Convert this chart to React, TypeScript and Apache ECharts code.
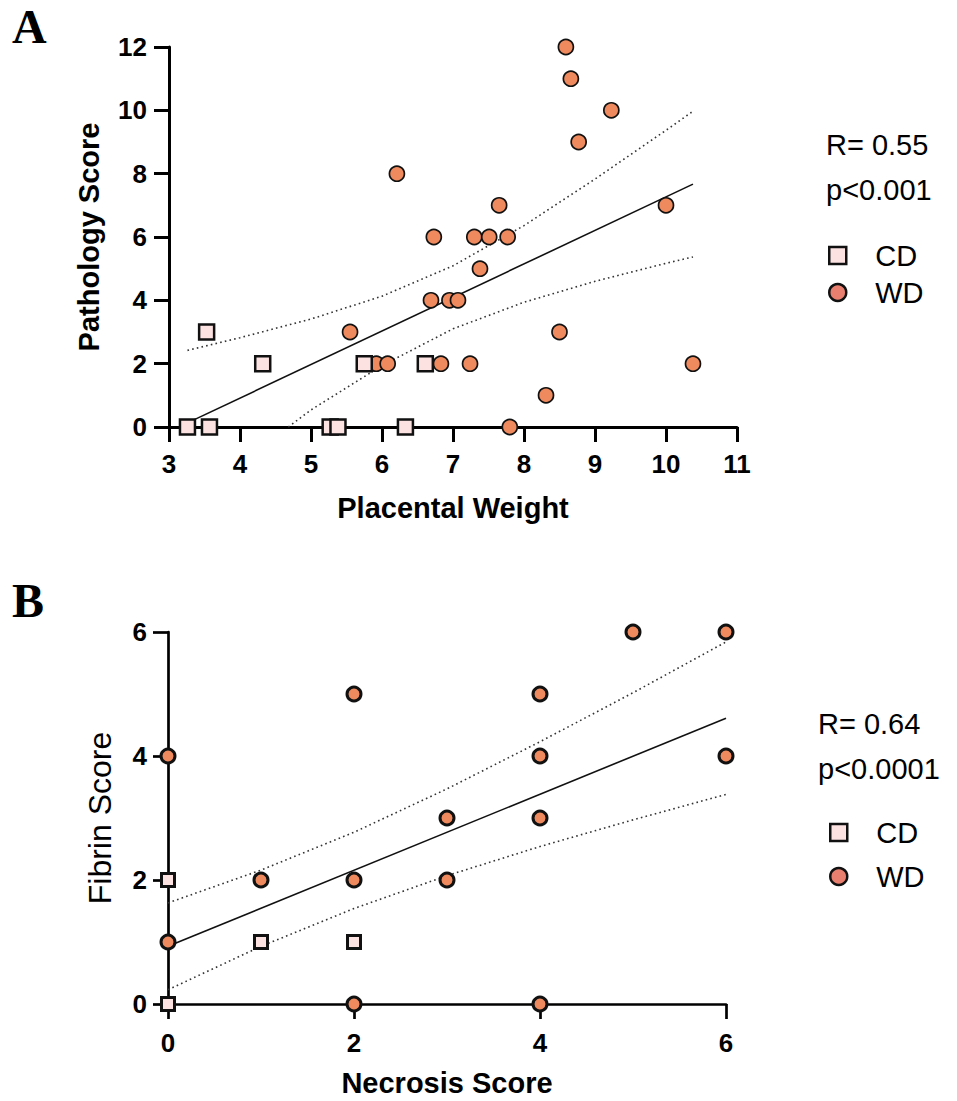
import React, { useEffect, useRef } from "react";
import * as echarts from "echarts";

// ---------- Panel A : Placental Weight vs Pathology Score ----------
const aCDx = [3.26, 3.53, 3.57, 4.32, 5.27, 5.38, 5.75, 6.33, 6.61];
const aCDy = [0, 3, 0, 2, 0, 0, 2, 0, 2];
const aWDx = [5.55, 5.92, 6.08, 6.21, 6.69, 6.73, 6.83, 6.95, 7.07, 7.24, 7.3, 7.38, 7.51, 7.65, 7.77, 7.8, 8.31, 8.5, 8.59, 8.66, 8.77, 9.23, 10.0, 10.38];
const aWDy = [3, 2, 2, 8, 4, 6, 2, 4, 4, 2, 6, 5, 6, 7, 6, 0, 1, 3, 12, 11, 9, 10, 7, 2];
const aFitX = [3.26, 10.38];
const aFitY = [0.13, 7.67];
const aUpX = [3.26, 4, 5, 6, 7, 8, 9, 10, 10.38];
const aUpY = [2.42, 2.82, 3.41, 4.13, 5.09, 6.36, 7.83, 9.37, 9.97];
const aLoX = [4.68, 5, 6, 7, 8, 9, 10, 10.38];
const aLoY = [0, 0.54, 1.94, 3.1, 3.94, 4.6, 5.17, 5.37];
const aXTicks = { min: 3, max: 11, interval: 1 };
const aYTicks = { min: 0, max: 12, interval: 2 };

// ---------- Panel B : Necrosis Score vs Fibrin Score ----------
const bCDx = [0, 0, 1, 2];
const bCDy = [2, 0, 1, 1];
const bWDx = [0, 0, 1, 2, 2, 2, 3, 3, 4, 4, 4, 4, 5, 6, 6];
const bWDy = [4, 1, 2, 5, 2, 0, 3, 2, 5, 4, 3, 0, 6, 6, 4];
const bFitX = [0, 6];
const bFitY = [0.93, 4.61];
const bUpX = [0, 1, 2, 3, 4, 5, 6];
const bUpY = [1.63, 2.16, 2.77, 3.47, 4.23, 5.02, 5.84];
const bLoX = [0, 1, 2, 3, 4, 5, 6];
const bLoY = [0.23, 0.93, 1.54, 2.07, 2.54, 2.97, 3.38];
const bXTicks = { min: 0, max: 6, interval: 2 };
const bYTicks = { min: 0, max: 6, interval: 2 };

const statsA = ["R= 0.55", "p<0.001"];
const statsB = ["R= 0.64", "p<0.0001"];
const groups = ["CD", "WD"];

const zip = (xs: number[], ys: number[]) => xs.map((x, i) => [x, ys[i]]);

const ORANGE = "#EE8A5E";
const PINK = "#FDE2E2";
const LEGEND_RED = "#E9806F";
const SANS = '"Liberation Sans", Arial, sans-serif';
const NARROW = '"Liberation Sans Narrow", "Liberation Sans", Arial, sans-serif';

function axisCommon(lw: number) {
  return {
    type: "value" as const,
    axisLine: { show: true, onZero: false, lineStyle: { color: "#000", width: lw } },
    axisTick: { show: true, inside: false, length: 15, lineStyle: { color: "#000", width: lw } },
    splitLine: { show: false },
    axisLabel: { color: "#000", fontSize: 26, fontWeight: "bold" as const, fontFamily: NARROW },
  };
}

function fitSeries(name: string, idx: number, xs: number[], ys: number[], dotted: boolean) {
  return {
    name,
    type: "line" as const,
    xAxisIndex: idx,
    yAxisIndex: idx,
    data: zip(xs, ys),
    symbol: "none",
    silent: true,
    z: 1,
    lineStyle: dotted
      ? { color: "#333", width: 1.6, type: [1.6, 3.2] }
      : { color: "#111", width: 1.6 },
  };
}

function legendItems() {
  return [
    { name: groups[0], icon: "rect", itemStyle: { color: PINK, borderColor: "#111", borderWidth: 2.5 } },
    { name: groups[1], icon: "circle", itemStyle: { color: LEGEND_RED, borderColor: "#111", borderWidth: 2.5 } },
  ];
}

export default function App() {
  const ref = useRef<HTMLDivElement>(null);
  useEffect(() => {
    const chart = echarts.init(ref.current!, null, { renderer: "svg" });
    const option: any = {
      animation: false,
      backgroundColor: "#fff",
      grid: [
        { left: 169, top: 47, width: 568, height: 380 },
        { left: 168, top: 632, width: 558, height: 372 },
      ],
      xAxis: [
        {
          ...axisCommon(3),
          gridIndex: 0,
          ...aXTicks,
          axisLabel: { ...axisCommon(3).axisLabel, margin: 24 },
          name: "Placental Weight",
          nameLocation: "middle",
          nameGap: 66,
          nameTextStyle: { color: "#000", fontSize: 29, fontWeight: "bold", fontFamily: SANS },
        },
        {
          ...axisCommon(2.7),
          gridIndex: 1,
          ...bXTicks,
          axisLabel: { ...axisCommon(2.7).axisLabel, margin: 26 },
          name: "Necrosis Score",
          nameLocation: "middle",
          nameGap: 64,
          nameTextStyle: { color: "#000", fontSize: 29, fontWeight: "bold", fontFamily: SANS },
        },
      ],
      yAxis: [
        {
          ...axisCommon(3),
          gridIndex: 0,
          ...aYTicks,
          axisLabel: { ...axisCommon(3).axisLabel, margin: 22 },
          name: "Pathology Score",
          nameLocation: "middle",
          nameRotate: 90,
          nameGap: 66,
          nameTextStyle: { color: "#000", fontSize: 29, fontWeight: "bold", fontFamily: SANS },
        },
        {
          ...axisCommon(2.7),
          gridIndex: 1,
          ...bYTicks,
          axisLabel: { ...axisCommon(2.7).axisLabel, margin: 21 },
          name: "Fibrin Score",
          nameLocation: "middle",
          nameRotate: 90,
          nameGap: 52,
          nameTextStyle: { color: "#000", fontSize: 32, fontWeight: "normal", fontFamily: SANS },
        },
      ],
      legend: [
        {
          orient: "vertical",
          left: 823,
          top: 236,
          itemWidth: 17,
          itemHeight: 17,
          itemGap: 8,
          selectedMode: false,
          textStyle: { color: "#000", fontSize: 29, fontFamily: SANS, padding: [0, 0, 0, 24] },
          data: legendItems(),
        },
        {
          orient: "vertical",
          left: 824,
          top: 813,
          itemWidth: 17,
          itemHeight: 17,
          itemGap: 15,
          selectedMode: false,
          textStyle: { color: "#000", fontSize: 29, fontFamily: SANS, padding: [0, 0, 0, 24] },
          data: legendItems(),
        },
      ],
      graphic: [
        { type: "text", x: 12, y: 26, style: { text: "A", font: 'bold 48px "Liberation Serif", serif', fill: "#000", verticalAlign: "middle" } },
        { type: "text", x: 12, y: 600, style: { text: "B", font: 'bold 48px "Liberation Serif", serif', fill: "#000", verticalAlign: "middle" } },
        { type: "text", x: 826, y: 145, style: { text: statsA[0], font: `29px ${SANS}`, fill: "#000", verticalAlign: "middle" } },
        { type: "text", x: 826, y: 190, style: { text: statsA[1], font: `29px ${SANS}`, fill: "#000", verticalAlign: "middle" } },
        { type: "text", x: 818, y: 724, style: { text: statsB[0], font: `29px ${SANS}`, fill: "#000", verticalAlign: "middle" } },
        { type: "text", x: 818, y: 769, style: { text: statsB[1], font: `29px ${SANS}`, fill: "#000", verticalAlign: "middle" } },
      ],
      series: [
        fitSeries("fitA", 0, aFitX, aFitY, false),
        fitSeries("upA", 0, aUpX, aUpY, true),
        fitSeries("loA", 0, aLoX, aLoY, true),
        {
          name: groups[1], type: "scatter", xAxisIndex: 0, yAxisIndex: 0, clip: false, z: 3,
          symbol: "circle", symbolSize: 15, data: zip(aWDx, aWDy),
          itemStyle: { color: ORANGE, borderColor: "#111", borderWidth: 1.7, opacity: 1 },
        },
        {
          name: groups[0], type: "scatter", xAxisIndex: 0, yAxisIndex: 0, clip: false, z: 4,
          symbol: "rect", symbolSize: 15, data: zip(aCDx, aCDy),
          itemStyle: { color: PINK, borderColor: "#111", borderWidth: 2.5, opacity: 1 },
        },
        fitSeries("fitB", 1, bFitX, bFitY, false),
        fitSeries("upB", 1, bUpX, bUpY, true),
        fitSeries("loB", 1, bLoX, bLoY, true),
        {
          name: groups[1], type: "scatter", xAxisIndex: 1, yAxisIndex: 1, clip: false, z: 3,
          symbol: "circle", symbolSize: 14, data: zip(bWDx, bWDy),
          itemStyle: { color: ORANGE, borderColor: "#111", borderWidth: 3, opacity: 1 },
        },
        {
          name: groups[0], type: "scatter", xAxisIndex: 1, yAxisIndex: 1, clip: false, z: 4,
          symbol: "rect", symbolSize: 13, data: zip(bCDx, bCDy),
          itemStyle: { color: PINK, borderColor: "#111", borderWidth: 3, opacity: 1 },
        },
      ],
    };
    chart.setOption(option);
    return () => chart.dispose();
  }, []);
  return <div ref={ref} style={{ position: "absolute", left: 0, top: 0, width: 957, height: 1101 }} />;
}
